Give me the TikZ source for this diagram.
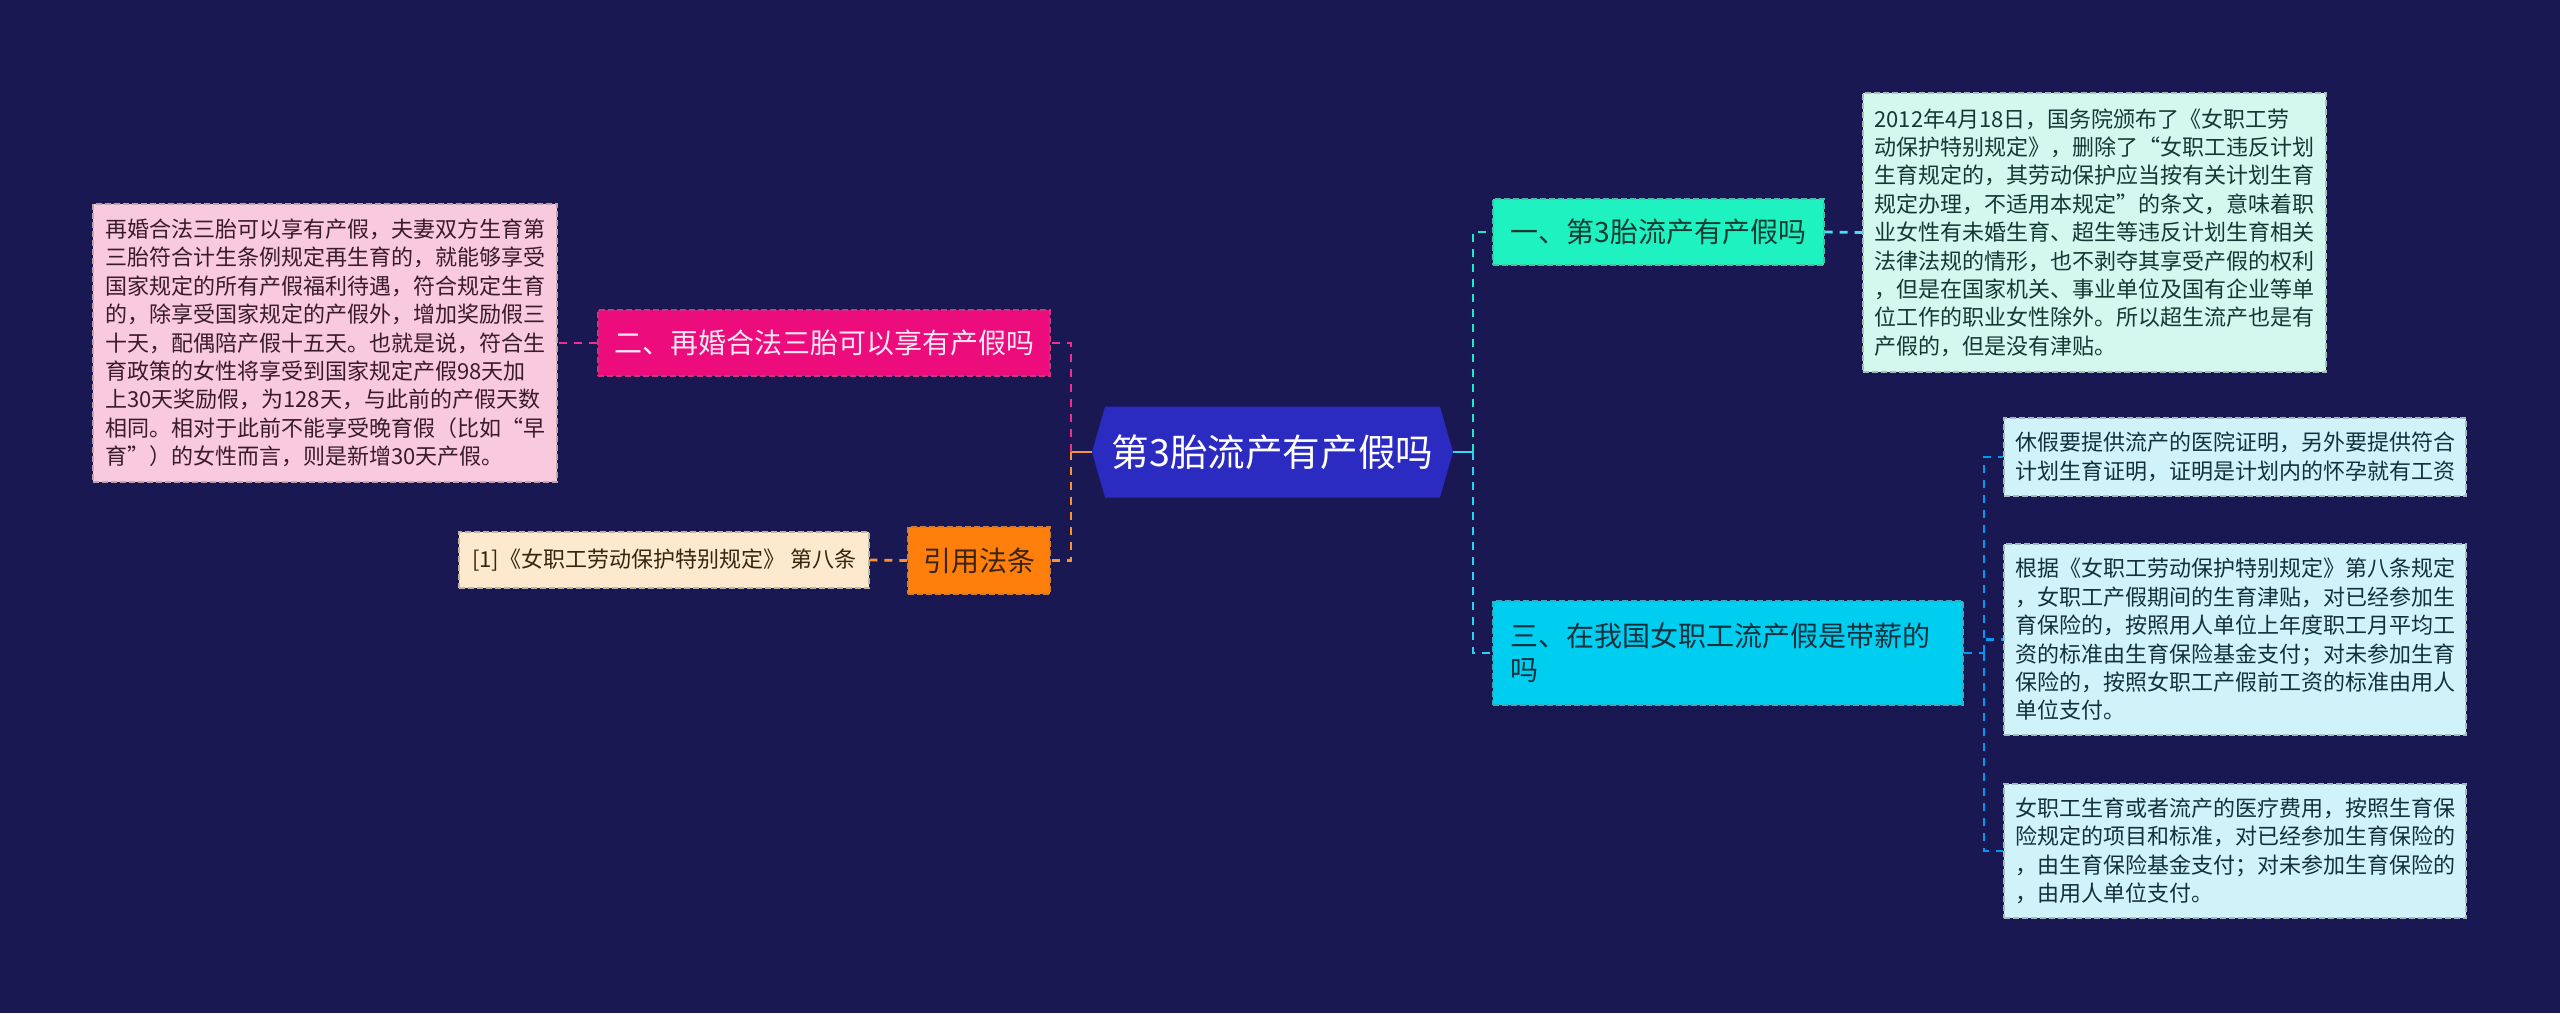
\documentclass[tikz,border=0pt]{standalone}
\usepackage{fontspec}
\newfontfamily\cjk{Noto Sans CJK SC}
\usetikzlibrary{shapes.symbols}

\definecolor{bgnavy}{HTML}{1A1852}
\definecolor{rootblue}{HTML}{2B2BC2}
\definecolor{mintfill}{HTML}{1EF2C0}
\definecolor{mintpale}{HTML}{D3F8EE}
\definecolor{skyfill}{HTML}{00CEF0}
\definecolor{skypale}{HTML}{D0F3FA}
\definecolor{rosefill}{HTML}{EC0C7C}
\definecolor{rosepale}{HTML}{F9C9DE}
\definecolor{amberfill}{HTML}{FF7F0C}
\definecolor{amberpale}{HTML}{FDE9CD}
\definecolor{inkteal}{HTML}{123A34}
\definecolor{inksky}{HTML}{13303C}
\definecolor{inkrose}{HTML}{3A1B2A}
\definecolor{inkamber}{HTML}{3A2410}

\begin{document}
\begin{tikzpicture}[x=0.5pt, y=-0.5pt,
    every node/.style={font=\cjk},
    box/.style={rectangle, draw=#1, dash pattern=on 3pt off 1.5pt, line width=0.6pt, inner sep=0pt},
    topic/.style={box=#1, font=\cjk\fontsize{14}{17}\selectfont},
    detail/.style={box=#1, align=left, font=\cjk\fontsize{11}{14.2}\selectfont},
    link/.style={draw=#1, dash pattern=on 4pt off 3.5pt, line width=1.4pt}]

  \fill[bgnavy] (0,0) rectangle (2560,1013);
  \useasboundingbox (0,0) rectangle (2560,1013);

  % centre
  \node[signal, signal to=west and east, signal pointer angle=148, fill=rootblue,
        minimum width=180.5pt, minimum height=45.5pt, inner sep=0pt, text=white,
        font=\cjk\fontsize{18.8}{22}\selectfont] (root) at (1272.5,452) {第3胎流产有产假吗};

  % right side
  \node[topic=mintfill!55!gray, fill=mintfill, text=inkteal, minimum width=165.5pt, minimum height=33pt]
    (one) at (1658.5,232) {一、第3胎流产有产假吗};
  \node[detail=mintpale!50!gray, fill=mintpale, text=inkteal, minimum width=231.5pt, minimum height=139.5pt]
    (onetxt) at (2094.5,232.5) {2012年4月18日，国务院颁布了《女职工劳\\
动保护特别规定》，删除了“女职工违反计划\\
生育规定的，其劳动保护应当按有关计划生育\\
规定办理，不适用本规定”的条文，意味着职\\
业女性有未婚生育、超生等违反计划生育相关\\
法律法规的情形，也不剥夺其享受产假的权利\\
，但是在国家机关、事业单位及国有企业等单\\
位工作的职业女性除外。所以超生流产也是有\\
产假的，但是没有津贴。};

  \node[topic=skyfill!55!gray, fill=skyfill, text=inksky, align=left, inner xsep=8.5pt, text width=218pt, minimum height=52pt]
    (three) at (1728,653) {三、在我国女职工流产假是带薪的\\吗};
  \node[detail=skypale!50!gray, fill=skypale, text=inksky, minimum width=231pt, minimum height=39pt]
    (threea) at (2235,457) {休假要提供流产的医院证明，另外要提供符合\\
计划生育证明，证明是计划内的怀孕就有工资};
  \node[detail=skypale!50!gray, fill=skypale, text=inksky, minimum width=231pt, minimum height=95.5pt]
    (threeb) at (2235,639.5) {根据《女职工劳动保护特别规定》第八条规定\\
，女职工产假期间的生育津贴，对已经参加生\\
育保险的，按照用人单位上年度职工月平均工\\
资的标准由生育保险基金支付；对未参加生育\\
保险的，按照女职工产假前工资的标准由用人\\
单位支付。};
  \node[detail=skypale!50!gray, fill=skypale, text=inksky, minimum width=231pt, minimum height=67pt]
    (threec) at (2235,851) {女职工生育或者流产的医疗费用，按照生育保\\
险规定的项目和标准，对已经参加生育保险的\\
，由生育保险基金支付；对未参加生育保险的\\
，由用人单位支付。};

  % left side
  \node[topic=rosefill!60!gray, fill=rosefill, text=white!90!rosefill, minimum width=226pt, minimum height=33pt]
    (two) at (824,343) {二、再婚合法三胎可以享有产假吗};
  \node[detail=rosepale!50!gray, fill=rosepale, text=inkrose, minimum width=232pt, minimum height=139pt]
    (twotxt) at (325,343) {再婚合法三胎可以享有产假，夫妻双方生育第\\
三胎符合计生条例规定再生育的，就能够享受\\
国家规定的所有产假福利待遇，符合规定生育\\
的，除享受国家规定的产假外，增加奖励假三\\
十天，配偶陪产假十五天。也就是说，符合生\\
育政策的女性将享受到国家规定产假98天加\\
上30天奖励假，为128天，与此前的产假天数\\
相同。相对于此前不能享受晚育假（比如“早\\
育”）的女性而言，则是新增30天产假。};

  \node[topic=amberfill!60!gray, fill=amberfill, text=inkamber, minimum width=71pt, minimum height=33.5pt]
    (cite) at (979,560.5) {引用法条};
  \node[detail=amberpale!50!gray, fill=amberpale, text=inkamber, minimum width=205pt, minimum height=28pt]
    (citetxt) at (664,560) {[1]《女职工劳动保护特别规定》 第八条};

  % connectors
  \coordinate (lj) at (1071,452);
  \coordinate (rj) at (1473,452);
  \coordinate (sj) at (1984,653);

  \draw[amberfill!85!white, line width=1.4pt] (root.west) -- (lj);
  \draw[link=rosefill!85!white] (lj) |- (two.east);
  \draw[link=amberfill!85!white] (lj) |- (cite.east);
  \draw[link=rosefill!85!white] (two.west) -- (twotxt.east);
  \draw[link=amberfill!85!white] (cite.west) -- (citetxt.east);

  \draw[skyfill!80!white, line width=1.4pt] (root.east) -- (rj);
  \draw[link=mintfill!85!skyfill] (rj) |- (one.west);
  \draw[link=skyfill!85!white] (rj) |- (three.west);
  \draw[link=skyfill!70!white] (one.east) -- (onetxt.west);
  \draw[link=skyfill!75!blue] (three.east) -- (sj);
  \draw[link=skyfill!75!blue] (sj) |- (threea.west);
  \draw[link=skyfill!75!blue] (sj) |- (threeb.west);
  \draw[link=skyfill!75!blue] (sj) |- (threec.west);
\end{tikzpicture}
\end{document}
